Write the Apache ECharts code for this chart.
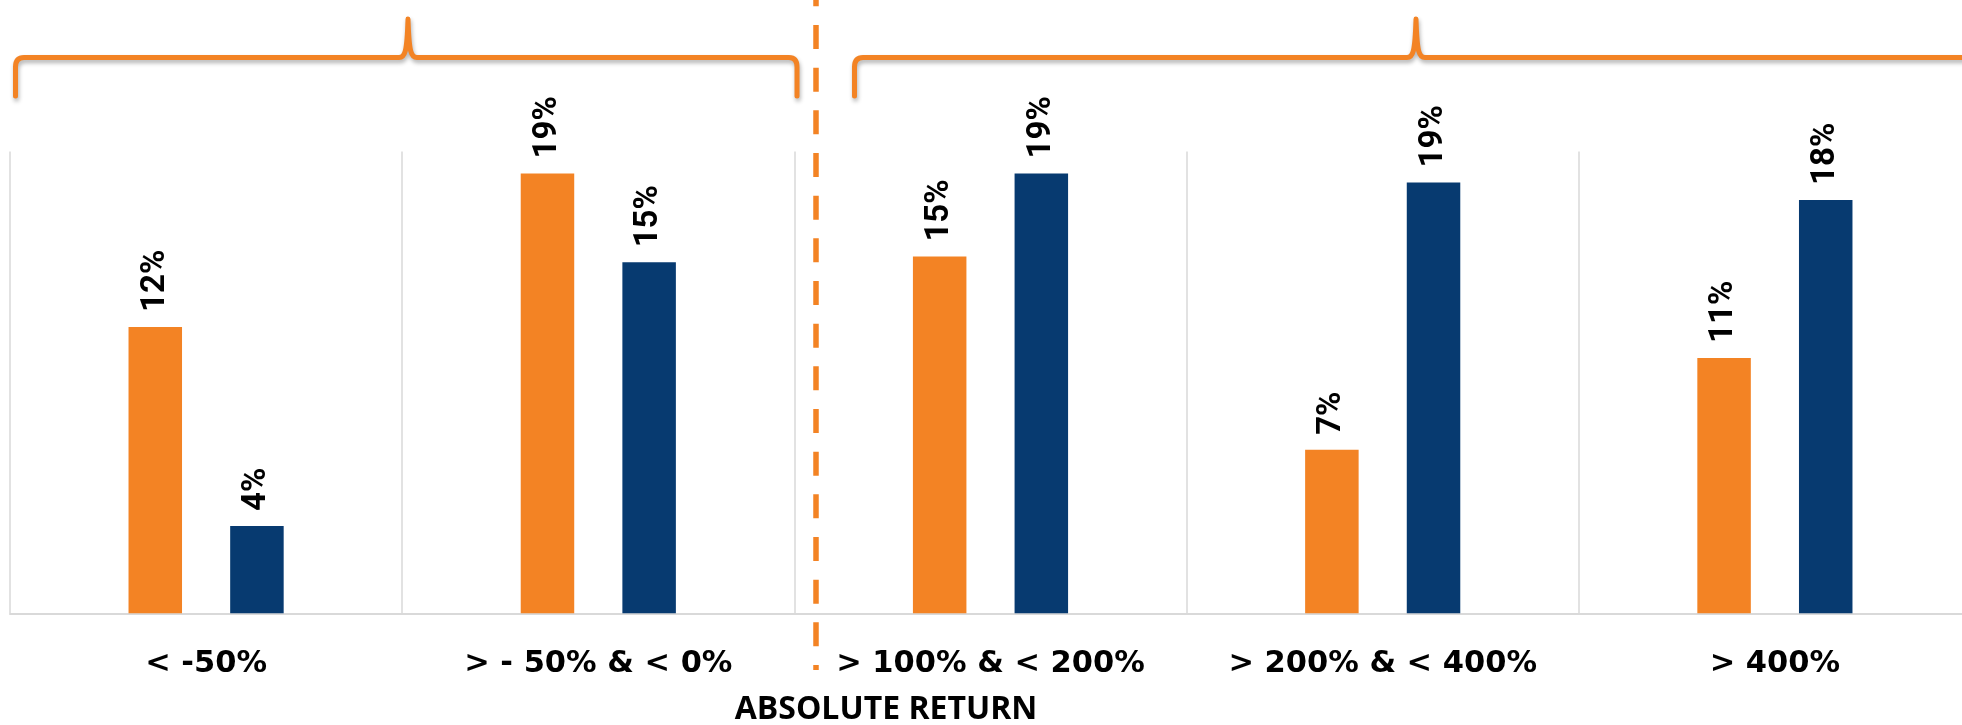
<!DOCTYPE html>
<html>
<head>
<meta charset="utf-8">
<style>
  html, body { margin: 0; padding: 0; background: #ffffff; overflow: hidden; }
  #chart { width: 1962px; height: 725px; }
</style>
<script src="https://cdn.jsdelivr.net/npm/echarts@6/dist/echarts.min.js"></script>
</head>
<body>
<div id="chart"></div>
<script>
// ---- data (percent) ----
const categories = ['< -50%', '> - 50% & < 0%', '> 100% & < 200%', '> 200% & < 400%', '> 400%'];
const orangeValues = [12.4, 19.05, 15.45, 7.08, 11.06];
const blueValues = [3.78, 15.2, 19.05, 18.66, 17.9];
const axisTitle = 'ABSOLUTE RETURN';

const ORANGE = '#F38324';
const BLUE = '#073A70';

const LEFT_BRACE = 'M 15.5 96 L 15.5 67 Q 15.5 57.5 24 57.5 L 399 57.5 C 405 57.5 407 52 408 19 C 409 52 411 57.5 417 57.5 L 789 57.5 Q 797 57.5 797 67 L 797 96';
const RIGHT_BRACE = 'M 854.5 96 L 854.5 67 Q 854.5 57.5 863 57.5 L 1407 57.5 C 1413 57.5 1415 52 1416 19 C 1417 52 1419 57.5 1425 57.5 L 1990 57.5';

echarts.graphic.registerShape('leftBrace', echarts.graphic.extendPath(LEFT_BRACE, {}));
echarts.graphic.registerShape('rightBrace', echarts.graphic.extendPath(RIGHT_BRACE, {}));

const chart = echarts.init(document.getElementById('chart'), null, { renderer: 'canvas' });

const labelCfg = {
  show: true,
  position: 'top',
  rotate: 90,
  align: 'left',
  verticalAlign: 'middle',
  distance: 15,
  color: '#000000',
  fontFamily: 'Roboto',
  fontWeight: 'bold',
  fontSize: 33,
  formatter: p => Math.round(p.value) + '%'
};

const braceStyle = {
  stroke: ORANGE,
  lineWidth: 5,
  fill: null,
  lineJoin: 'round',
  lineCap: 'round',
  shadowBlur: 4,
  shadowOffsetX: 1,
  shadowOffsetY: 3,
  shadowColor: 'rgba(0,0,0,0.3)'
};

chart.setOption({
  backgroundColor: '#ffffff',
  animation: false,
  grid: {
    left: 10, top: 151.5, width: 1961, height: 461.8,
    containLabel: false,
    outerBoundsMode: 'none'
  },
  xAxis: {
    type: 'category',
    data: categories,
    boundaryGap: true,
    axisLine: { show: true, lineStyle: { color: '#D9D9D9', width: 2 } },
    axisTick: { show: false },
    splitLine: { show: true, interval: 0, lineStyle: { color: '#D9D9D9', width: 1.5 } },
    axisLabel: {
      interval: 0,
      margin: 35.5,
      color: '#000000',
      fontFamily: "'DejaVu Sans'",
      fontWeight: 'bold',
      fontSize: 30.5
    }
  },
  yAxis: {
    type: 'value',
    min: 0,
    max: 20,
    show: false,
    splitLine: { show: false }
  },
  series: [
    {
      name: 'Series 1',
      type: 'bar',
      data: orangeValues,
      barWidth: 53.5,
      barGap: '90%',
      itemStyle: { color: ORANGE },
      label: labelCfg
    },
    {
      name: 'Series 2',
      type: 'bar',
      data: blueValues,
      barWidth: 53.5,
      barGap: '90%',
      itemStyle: { color: BLUE },
      label: labelCfg
    }
  ],
  graphic: [
    { type: 'leftBrace', z: 100, shape: {}, style: braceStyle },
    { type: 'rightBrace', z: 100, shape: {}, style: braceStyle },
    {
      type: 'line',
      z: 100,
      shape: { x1: 816, y1: -17.7, x2: 816, y2: 670 },
      style: { stroke: ORANGE, lineWidth: 5.5, lineDash: [24, 18.67], lineCap: 'butt' }
    },
    {
      type: 'text',
      z: 100,
      x: 886,
      y: 710,
      style: {
        text: axisTitle,
        fill: '#000000',
        font: "bold 32px 'Open Sans'",
        textAlign: 'center',
        textVerticalAlign: 'middle'
      }
    }
  ]
});
</script>
</body>
</html>
